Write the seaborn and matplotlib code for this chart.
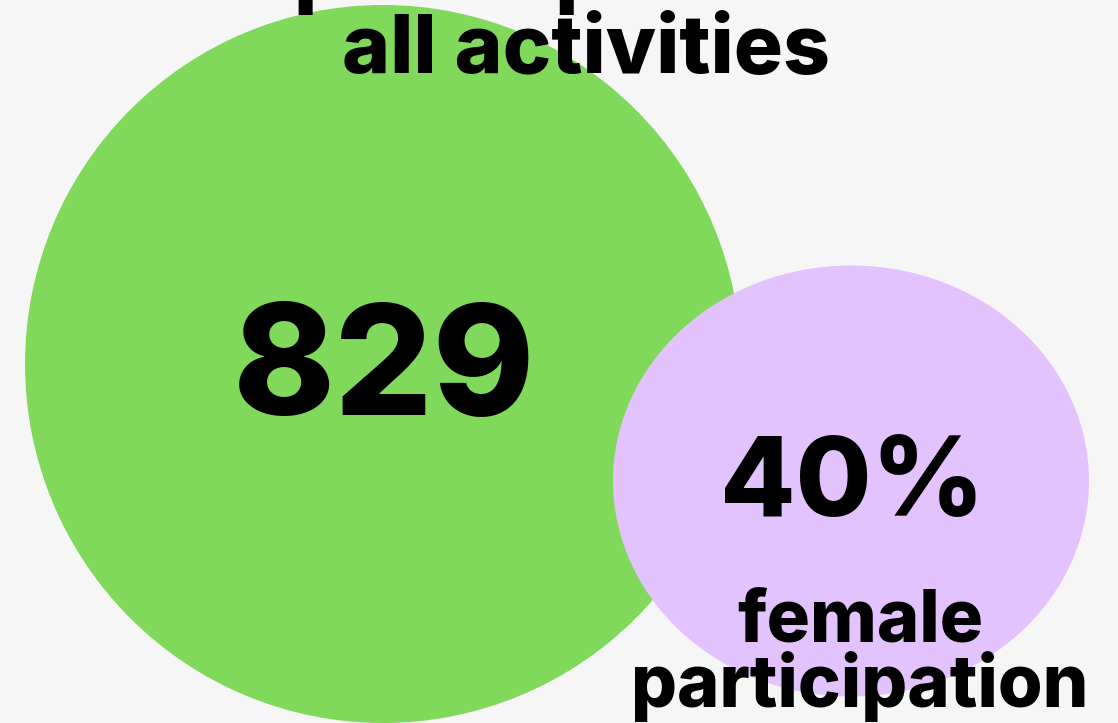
import matplotlib
matplotlib.use("Agg")
import matplotlib.pyplot as plt
from matplotlib.patches import Ellipse
import seaborn as sns

# data
label_lines_main = ["participants in", "all activities"]
label_lines_sub = ["female", "participation"]
values = ["829", "40%"]
colors = ["#80d95a", "#e3c3fd"]
centers_x = [383, 851]
centers_y = [364, 481]
widths = [716, 476]
heights = [718, 431]

sns.set_theme(style="white")
plt.rcParams["font.family"] = ["Inter", "DejaVu Sans"]

fig = plt.figure(figsize=(11.18, 7.23), dpi=100)
fig.patch.set_facecolor("#f6f6f6")
ax = fig.add_axes([0, 0, 1, 1])
ax.set_facecolor("#f6f6f6")
ax.set_xlim(0, 1118)
ax.set_ylim(723, 0)
ax.axis("off")

for cx, cy, w, h, c in zip(centers_x, centers_y, widths, heights, colors):
    ax.add_patch(Ellipse((cx, cy), w, h, facecolor=c, edgecolor="none"))

# big numbers
ax.text(384, 415, values[0], ha="center", va="baseline", fontsize=111,
        fontweight="heavy", color="black")
ax.text(852, 516, values[1], ha="center", va="baseline", fontsize=79,
        fontweight="heavy", color="black")

# labels (one text per line)
for line, y in zip(label_lines_main, [-2, 73]):
    ax.text(586, y, line, ha="center", va="baseline", fontsize=59,
            fontweight="heavy", color="black", clip_on=False)
for line, y in zip(label_lines_sub, [642, 707]):
    ax.text(860, y, line, ha="center", va="baseline", fontsize=52,
            fontweight="heavy", color="black")

fig.savefig("out.png", dpi=100, facecolor=fig.get_facecolor())
